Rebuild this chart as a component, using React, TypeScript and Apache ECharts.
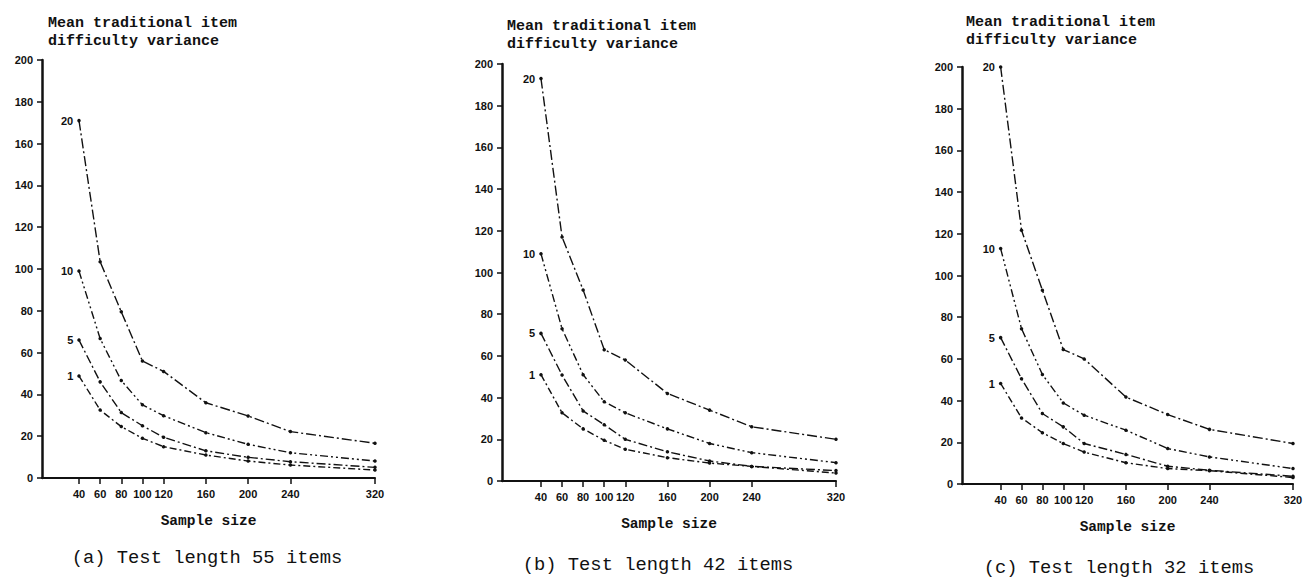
import React, { useEffect, useRef } from "react";
import * as echarts from "echarts";

// Sample sizes at which the variance was computed
const sampleSizes = [40, 60, 80, 100, 120, 160, 200, 240, 320];
const xTickValues = [40, 60, 80, 100, 120, 160, 200, 240, 320];

// Curve names (number of replications)
const curveNames = ["20", "10", "5", "1"];

// (a) Test length 55 items
const a20 = [171, 103.5, 79.5, 56, 51, 36, 29.7, 22.2, 16.6];
const a10 = [99, 66.7, 46.6, 35, 29.8, 21.7, 16.1, 12.1, 8.1];
const a5 = [66, 46, 31.3, 25, 19.5, 13, 9.9, 7.8, 5.1];
const a1 = [48.8, 32.5, 24.6, 19, 15, 11, 8.1, 6.2, 3.8];

// (b) Test length 42 items
const b20 = [193, 117, 91.6, 63, 58, 42, 34, 26, 20];
const b10 = [109, 73, 51, 38, 32.7, 25, 18, 13.6, 8.8];
const b5 = [70.8, 50.8, 33.6, 27, 20, 14, 9.6, 7, 5];
const b1 = [51, 32.7, 25, 19.5, 15.2, 11.2, 8.6, 7, 3.8];

// (c) Test length 32 items
const c20 = [200, 121.7, 92.9, 64.5, 60, 41.7, 33.3, 26.2, 19.4];
const c10 = [112.9, 74.5, 52.5, 38.9, 33, 25.8, 17, 13, 7.4];
const c5 = [70.2, 50.5, 33.8, 27.4, 19.4, 14.2, 8.5, 6.6, 3.7];
const c1 = [48.2, 31.7, 24.6, 19.4, 15.3, 10.2, 7.4, 6.4, 3.1];

const panelSeries = [
  [a20, a10, a5, a1],
  [b20, b10, b5, b1],
  [c20, c10, c5, c1],
];

const yTitle = "Mean traditional item\ndifficulty variance";
const xTitle = "Sample size";
const captions = [
  "(a) Test length 55 items",
  "(b) Test length 42 items",
  "(c) Test length 32 items",
];

const INK = "#111";
const MONO = "'Liberation Mono', 'DejaVu Sans Mono', monospace";
const SANS = "'Liberation Sans', Arial, sans-serif";

// Panel geometry in pixels
const panels = [
  { left: 42, top: 60, width: 333, height: 418, xMin: 5, titleX: 48, titleY: 14, capX: 207, capY: 558 },
  { left: 502, top: 64, width: 334, height: 417, xMin: 3, titleX: 507, titleY: 17, capX: 658, capY: 565 },
  { left: 962, top: 67, width: 331, height: 417, xMin: 3, titleX: 966, titleY: 13, capX: 1119, capY: 568 },
];

const dashes = [
  [10, 3, 2, 3],
  [8, 3, 2, 3, 2, 3],
  [9, 3, 2, 3],
  [7, 3, 2, 3],
];

export default function App() {
  const ref = useRef<HTMLDivElement>(null);

  useEffect(() => {
    if (!ref.current) return;
    const chart = echarts.init(ref.current, null, { renderer: "svg" });

    const grids = panels.map((p) => ({
      left: p.left,
      top: p.top,
      width: p.width,
      height: p.height,
    }));

    const xAxes = panels.map((p, i) => ({
      type: "value",
      gridIndex: i,
      min: p.xMin,
      max: 320,
      name: xTitle,
      nameLocation: "middle",
      nameGap: 35,
      nameTextStyle: { fontFamily: MONO, fontSize: 14.5, color: INK, fontWeight: "bold" },
      axisLine: { show: true, lineStyle: { color: INK, width: 2 } },
      axisTick: {
        show: true,
        customValues: xTickValues,
        length: 6,
        lineStyle: { color: INK, width: 1.5 },
      },
      axisLabel: {
        customValues: xTickValues,
        margin: 10,
        fontFamily: SANS,
        fontSize: 11,
        fontWeight: "bold",
        color: INK,
      },
      splitLine: { show: false },
    }));

    const yAxes = panels.map((_, i) => ({
      type: "value",
      gridIndex: i,
      min: 0,
      max: 200,
      interval: 20,
      axisLine: { show: true, lineStyle: { color: INK, width: 2.5 } },
      axisTick: { show: true, length: 5, lineStyle: { color: INK, width: 1.5 } },
      axisLabel: {
        margin: 9,
        fontFamily: SANS,
        fontSize: 11,
        fontWeight: "bold",
        color: INK,
      },
      splitLine: { show: false },
    }));

    const series: any[] = [];
    panelSeries.forEach((curves, pi) => {
      curves.forEach((vals, ci) => {
        series.push({
          type: "line",
          name: curveNames[ci],
          xAxisIndex: pi,
          yAxisIndex: pi,
          symbol: "circle",
          symbolSize: 3.5,
          itemStyle: { color: INK },
          lineStyle: { color: INK, width: 1.4, type: dashes[ci] },
          data: sampleSizes.map((x, k) =>
            k === 0
              ? {
                  value: [x, vals[k]],
                  label: {
                    show: true,
                    position: "left",
                    distance: 4,
                    formatter: curveNames[ci],
                    fontFamily: SANS,
                    fontSize: 11,
                    fontWeight: "bold",
                    color: INK,
                  },
                }
              : [x, vals[k]]
          ),
        });
      });
    });

    const graphic: any[] = [];
    panels.forEach((p, i) => {
      graphic.push({
        type: "text",
        left: p.titleX,
        top: p.titleY,
        style: {
          text: yTitle,
          fontFamily: MONO,
          fontSize: 15,
          fontWeight: "bold",
          lineHeight: 18,
          fill: INK,
        },
      });
      graphic.push({
        type: "text",
        x: p.capX,
        y: p.capY,
        style: {
          text: captions[i],
          fontFamily: MONO,
          fontSize: 18.8,
          fill: INK,
          align: "center",
          verticalAlign: "middle",
        },
      });
    });

    chart.setOption({
      animation: false,
      backgroundColor: "#ffffff",
      grid: grids,
      xAxis: xAxes,
      yAxis: yAxes,
      series,
      graphic,
    });

    return () => chart.dispose();
  }, []);

  return (
    <div
      ref={ref}
      style={{ position: "fixed", left: 0, top: 0, width: 1311, height: 581, background: "#fff" }}
    />
  );
}
